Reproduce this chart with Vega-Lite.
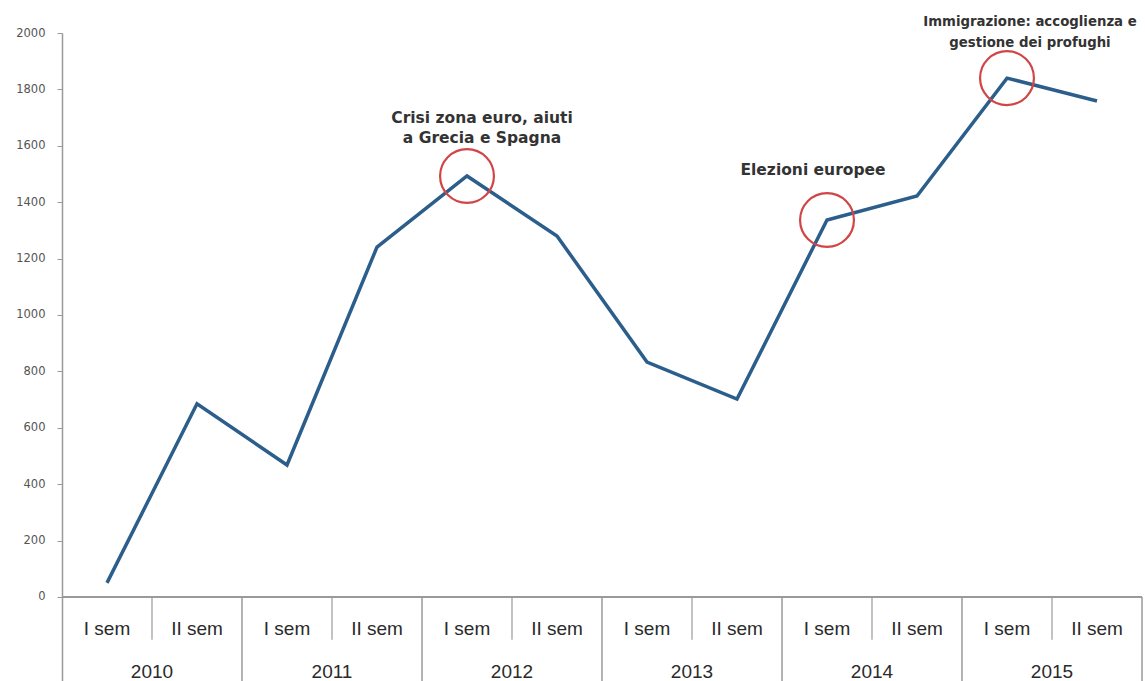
{
  "$schema": "https://vega.github.io/schema/vega-lite/v6.json",
  "width": 1080,
  "height": 648,
  "autosize": {"type": "none"},
  "padding": {"left": 62, "top": 33, "right": 3, "bottom": 0},
  "background": "white",
  "config": {"view": {"stroke": null}},
  "datasets": {
    "series": [
      {"period": "2010 I", "year": "2010", "sem": "I sem", "value": 50},
      {"period": "2010 II", "year": "2010", "sem": "II sem", "value": 685},
      {"period": "2011 I", "year": "2011", "sem": "I sem", "value": 468},
      {"period": "2011 II", "year": "2011", "sem": "II sem", "value": 1241},
      {"period": "2012 I", "year": "2012", "sem": "I sem", "value": 1493},
      {"period": "2012 II", "year": "2012", "sem": "II sem", "value": 1280},
      {"period": "2013 I", "year": "2013", "sem": "I sem", "value": 833},
      {"period": "2013 II", "year": "2013", "sem": "II sem", "value": 702},
      {"period": "2014 I", "year": "2014", "sem": "I sem", "value": 1337},
      {"period": "2014 II", "year": "2014", "sem": "II sem", "value": 1422},
      {"period": "2015 I", "year": "2015", "sem": "I sem", "value": 1840},
      {"period": "2015 II", "year": "2015", "sem": "II sem", "value": 1759}
    ],
    "notes": [
      {"period": "2012 I", "value": 1493, "label": ["Crisi zona euro, aiuti", "a Grecia e Spagna"]},
      {"period": "2014 I", "value": 1337, "label": ["Elezioni europee"]},
      {"period": "2015 I", "value": 1840, "label": ["Immigrazione: accoglienza e", "gestione dei profughi"]}
    ]
  },
  "encoding": {
    "x": {
      "field": "period",
      "type": "ordinal",
      "sort": null,
      "scale": {"type": "band", "paddingInner": 0, "paddingOuter": 0, "domain": ["2010 I","2010 II","2011 I","2011 II","2012 I","2012 II","2013 I","2013 II","2014 I","2014 II","2015 I","2015 II"]},
      "axis": null
    }
  },
  "layer": [
    {
      "data": {"name": "series"},
      "mark": {"type": "rule", "color": "#9a9a9a", "strokeWidth": 2},
      "encoding": {
        "x": null,
        "y": {"datum": 0, "type": "quantitative", "scale": {"domain": [-298, 2000], "nice": false, "zero": false}}
      }
    },
    {
      "data": {"name": "series"},
      "transform": [{"filter": "datum.sem == 'II sem'"}],
      "mark": {"type": "rule", "color": "#9a9a9a", "strokeWidth": 1.2},
      "encoding": {
        "x": {"field": "period", "type": "ordinal", "bandPosition": 0},
        "y": {"datum": 0, "type": "quantitative"},
        "y2": {"datum": -152}
      }
    },
    {
      "data": {"name": "series"},
      "transform": [{"filter": "datum.sem == 'I sem' && datum.year != '2010'"}],
      "mark": {"type": "rule", "color": "#9a9a9a", "strokeWidth": 1.5},
      "encoding": {
        "x": {"field": "period", "type": "ordinal", "bandPosition": 0},
        "y": {"datum": 0, "type": "quantitative"},
        "y2": {"datum": -298}
      }
    },
    {
      "data": {"name": "series"},
      "transform": [{"filter": "datum.period == '2015 II'"}],
      "mark": {"type": "rule", "color": "#9a9a9a", "strokeWidth": 1.5},
      "encoding": {
        "x": {"field": "period", "type": "ordinal", "bandPosition": 1},
        "y": {"datum": 0, "type": "quantitative"},
        "y2": {"datum": -298}
      }
    },
    {
      "data": {"name": "series"},
      "mark": {"type": "text", "font": "Liberation Sans", "fontSize": 19, "color": "#2a2a2a", "baseline": "middle", "align": "center"},
      "encoding": {
        "y": {"datum": -112, "type": "quantitative"},
        "text": {"field": "sem"}
      }
    },
    {
      "data": {"name": "series"},
      "transform": [{"filter": "datum.sem == 'II sem'"}],
      "mark": {"type": "text", "font": "Liberation Sans", "fontSize": 19, "color": "#2a2a2a", "baseline": "middle", "align": "center"},
      "encoding": {
        "x": {"field": "period", "type": "ordinal", "bandPosition": 0},
        "y": {"datum": -266, "type": "quantitative"},
        "text": {"field": "year"}
      }
    },
    {
      "data": {"name": "series"},
      "mark": {"type": "line", "color": "#2C5E8C", "strokeWidth": 3.5, "strokeJoin": "miter"},
      "encoding": {
        "y": {
          "field": "value",
          "type": "quantitative",
          "axis": {
            "values": [0, 200, 400, 600, 800, 1000, 1200, 1400, 1600, 1800, 2000],
            "format": "d",
            "title": null,
            "grid": false,
            "domainColor": "#9a9a9a",
            "domainWidth": 1.5,
            "tickColor": "#9a9a9a",
            "tickSize": 5,
            "labelPadding": 12,
            "labelFont": "DejaVu Sans",
            "labelFontSize": 11.5,
            "labelColor": "#555555"
          }
        }
      }
    },
    {
      "data": {"name": "notes"},
      "mark": {"type": "point", "shape": "circle", "filled": false, "stroke": "#D04545", "strokeWidth": 2.2, "size": 2900, "opacity": 1},
      "encoding": {
        "y": {"field": "value", "type": "quantitative"}
      }
    },
    {
      "data": {"name": "notes"},
      "transform": [{"filter": "datum.period == '2012 I'"}],
      "mark": {"type": "text", "font": "DejaVu Sans", "fontWeight": "bold", "fontSize": 15.5, "color": "#333333", "baseline": "middle", "align": "center", "lineHeight": 20, "dx": 15, "dy": -58},
      "encoding": {
        "y": {"field": "value", "type": "quantitative"},
        "text": {"field": "label"}
      }
    },
    {
      "data": {"name": "notes"},
      "transform": [{"filter": "datum.period == '2014 I'"}],
      "mark": {"type": "text", "font": "DejaVu Sans", "fontWeight": "bold", "fontSize": 15.5, "color": "#333333", "baseline": "middle", "align": "center", "lineHeight": 20, "dx": -14, "dy": -50},
      "encoding": {
        "y": {"field": "value", "type": "quantitative"},
        "text": {"field": "label"}
      }
    },
    {
      "data": {"name": "notes"},
      "transform": [{"filter": "datum.period == '2015 I'"}],
      "mark": {"type": "text", "font": "DejaVu Sans", "fontWeight": "bold", "fontSize": 13.3, "color": "#333333", "baseline": "middle", "align": "center", "lineHeight": 21, "dx": 23, "dy": -56},
      "encoding": {
        "y": {"field": "value", "type": "quantitative"},
        "text": {"field": "label"}
      }
    }
  ]
}
